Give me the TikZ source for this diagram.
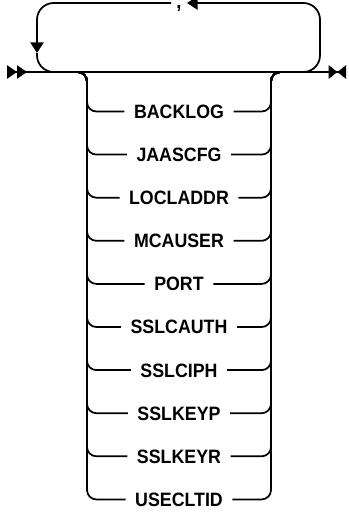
\documentclass[tikz,border=0pt]{standalone}
\usepackage{fontspec}
\setmainfont{Liberation Sans}
\newfontfamily\kwfont[FakeStretch=0.92]{Liberation Sans}
\usetikzlibrary{arrows.meta,positioning}
\tikzset{
  rail/.style={line width=1.3pt, rounded corners=7pt},
  loopline/.style={rail, rounded corners=12.5pt},
  kw/.style={font=\kwfont\bfseries\fontsize{14.5}{16}\selectfont, fill=white, inner xsep=7pt, inner ysep=1pt,
    text height=10.4pt, text depth=0pt},
  tri/.tip={Triangle[length=8pt,width=10pt]},
  endpoints/.style={{Triangle[reversed,length=7.5pt,width=10pt,sep=0pt]Triangle[reversed,length=7.5pt,width=10pt]}-{Triangle[length=6.5pt,width=10pt,sep=0pt]Triangle[reversed,length=6.5pt,width=10pt]}}
}
\begin{document}
\begin{tikzpicture}[x=0.75pt,y=-0.75pt]
  \useasboundingbox (0,0) rectangle (349,514);
  % main line
  \coordinate (start) at (7,72);
  \coordinate (stop) at (346,72);
  \draw[rail, endpoints] (start) -- (stop);
  % repeat loop with separator
  \coordinate (lpL) at (37,72);
  \coordinate (lpR) at (320,72);
  \coordinate (sepL) at (171,3);
  \coordinate (sepR) at (187,3);
  \coordinate (lpArrow) at (37,53);
  \node[font=\kwfont\bfseries\fontsize{15}{16}\selectfont, inner sep=0pt, text height=0pt, anchor=north] (sep) at (179,8.5) {,};
  \draw[loopline, -tri] ([xshift=-20]lpR) -- (lpR) -- (lpR |- sepR) -- (sepR);
  \draw[loopline, -tri] (sepL) -- (lpL |- sepL) -- (lpArrow);
  \draw[loopline] (lpArrow) -- (lpL) -- ([xshift=20]lpL);
  % choices
  \coordinate (brL) at (87,72);
  \coordinate (brR) at (271,72);
  \foreach \w [count=\i from 0] in {BACKLOG,JAASCFG,LOCLADDR,MCAUSER,PORT,SSLCAUTH,SSLCIPH,SSLKEYP,SSLKEYR,USECLTID} {
    \node[kw] (kw\i) at (179,111.5+43.1*\i) {\w};
    \draw[rail] ([xshift=-10]brL) -- (brL) -- (brL |- kw\i) -- (kw\i);
    \draw[rail] (kw\i) -- (brR |- kw\i) -- (brR) -- ([xshift=10]brR);
  }
\end{tikzpicture}
\end{document}
